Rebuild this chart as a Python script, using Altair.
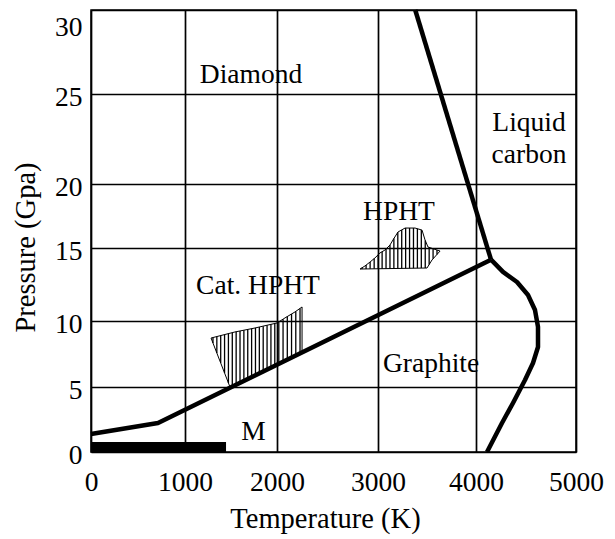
import altair as alt
import numpy as np
import pandas as pd

# ---- data (Temperature K, Pressure GPa) ----
x_ticks = [0, 1000, 2000, 3000, 4000, 5000]
y_ticks = [0, 5, 10, 15, 20, 25, 30]

# diamond / graphite boundary
dg_T = [0, 713, 4150]
dg_P = [1.38, 2.23, 14.2]
# diamond / liquid (melting) line
melt_T = [4150, 3380]
melt_P = [14.2, 30.0]
# graphite / liquid line
gl_T = [4150, 4270, 4410, 4520, 4590, 4620, 4620, 4570, 4490, 4370, 4260, 4110]
gl_P = [14.2, 13.36, 12.67, 11.78, 10.75, 9.55, 8.03, 6.82, 5.53, 3.77, 2.23, 0.0]

# metastable (M) region bar
m_T = [0, 1446]
m_P = [0.0, 0.77]

# Cat. HPHT region outline
cat_top_T = [1283, 1543, 1761, 2000, 2079, 2178, 2248]
cat_top_P = [8.71, 9.17, 9.47, 9.85, 10.21, 10.62, 10.96]
cat_bot_T = [1283, 1489, 2248]
cat_bot_P = [8.71, 5.0, 7.58]

# HPHT region outline
hp_top_T = [2822, 2871, 2921, 2970, 3020, 3071, 3122, 3153, 3204, 3276, 3378, 3449, 3480, 3510, 3633]
hp_top_P = [13.56, 13.77, 14.04, 14.32, 14.66, 14.86, 15.23, 15.63, 16.25, 16.56, 16.56, 16.4, 15.63, 15.08, 14.79]
hp_bot_T = [2822, 3500, 3551, 3633]
hp_bot_P = [13.56, 13.63, 14.18, 14.79]

label_text = ["Diamond", "Liquid", "carbon", "HPHT", "Cat. HPHT", "Graphite", "M"]
label_T = [1717, 4530, 4530, 3214, 1793, 3541, 1745]
label_P = [25.68, 22.96, 21.18, 17.19, 11.85, 6.14, 0.92]

FONT = "Liberation Serif"

# ---- tables ----
lines = pd.DataFrame(
    [{"seg": "dg", "i": i, "T": t, "P": p} for i, (t, p) in enumerate(zip(dg_T, dg_P))]
    + [{"seg": "melt", "i": i, "T": t, "P": p} for i, (t, p) in enumerate(zip(melt_T, melt_P))]
    + [{"seg": "gl", "i": i, "T": t, "P": p} for i, (t, p) in enumerate(zip(gl_T, gl_P))]
)

def hatch(topT, topP, botT, botP, step):
    ts = np.arange(topT[0] + step / 2, topT[-1], step)
    return pd.DataFrame({
        "T": ts,
        "P": np.interp(ts, botT, botP),
        "P2": np.interp(ts, topT, topP),
    })

hatch_df = pd.concat([
    hatch(cat_top_T, cat_top_P, cat_bot_T, cat_bot_P, 42),
    hatch(hp_top_T, hp_top_P, hp_bot_T, hp_bot_P, 40),
])

def outline(name, topT, topP, botT, botP):
    T = list(topT) + list(botT[::-1])
    P = list(topP) + list(botP[::-1])
    return pd.DataFrame({"reg": name, "i": range(len(T)), "T": T, "P": P})

outline_df = pd.concat([
    outline("cat", cat_top_T, cat_top_P, cat_bot_T, cat_bot_P),
    outline("hp", hp_top_T, hp_top_P, hp_bot_T, hp_bot_P),
])

m_df = pd.DataFrame({"T": [m_T[0]], "T2": [m_T[1]], "P": [m_P[0]], "P2": [m_P[1]]})
labels_df = pd.DataFrame({"text": label_text, "T": label_T, "P": label_P})
grid_df = pd.DataFrame({"T": [0, 5000], "P": [0, 30]})

W, H = 485, 442
xs = alt.Scale(domain=x_ticks, range=[0, 94, 186, 287, 385, 485], nice=False, zero=False)
ys = alt.Scale(domain=y_ticks, range=[442, 377, 311, 238, 174, 84, 0], nice=False, zero=False)

x_axis = alt.Axis(
    values=x_ticks, grid=True, gridColor="black", gridWidth=1.7, gridOpacity=1,
    ticks=False, tickSize=0, domain=False, format="d",
    labelFont=FONT, labelFontSize=27.5, labelColor="black", labelBaseline="alphabetic",
    labelPadding=38, labelFlush=False, labelOverlap=False,
    title="Temperature (K)", titleFont=FONT, titleFontSize=28.5, titleFontWeight="normal",
    titleColor="black", titleBaseline="alphabetic", titleY=75, titleX=234, titleAnchor="middle",
)
y_axis = alt.Axis(
    values=y_ticks, grid=True, gridColor="black", gridWidth=1.7, gridOpacity=1,
    ticks=False, tickSize=0, domain=False, format="d",
    labelFont=FONT, labelFontSize=27.5, labelColor="black",
    labelBaseline={"condition": {"test": "datum.value == 30", "value": "top"}, "value": "middle"},
    labelOffset=3, labelPadding=9, labelFlush=False, labelOverlap=False,
    title="Pressure (Gpa)", titleFont=FONT, titleFontSize=28.5, titleFontWeight="normal",
    titleColor="black", titleBaseline="alphabetic", titleAngle=270, titleX=-57, titleY=237,
    titleAlign="center",
)

def X(field="T"):
    return alt.X(f"{field}:Q", scale=xs, axis=x_axis, title="Temperature (K)")

def Y(field="P"):
    return alt.Y(f"{field}:Q", scale=ys, axis=y_axis, title="Pressure (Gpa)")

base_grid = alt.Chart(grid_df).mark_point(opacity=0).encode(x=X(), y=Y())

m_bar = alt.Chart(m_df).mark_rect(color="black").encode(
    x=X(), x2="T2:Q", y=Y(), y2="P2:Q",
)

hatch_layer = alt.Chart(hatch_df).mark_rule(color="black", strokeWidth=1.3).encode(
    x=X(), y=Y(), y2="P2:Q",
)

outline_layer = alt.Chart(outline_df).mark_line(color="black", strokeWidth=1).encode(
    x=X(), y=Y(), detail="reg:N", order="i:Q",
)

phase_lines = alt.Chart(lines).mark_line(
    color="black", strokeWidth=4.5, strokeJoin="round", strokeCap="butt"
).encode(
    x=X(), y=Y(), detail="seg:N", order="i:Q",
)

text_layer = alt.Chart(labels_df).mark_text(
    font=FONT, fontSize=27.5, color="black", align="center", baseline="alphabetic"
).encode(
    x=X(), y=Y(), text="text:N",
)

chart = alt.layer(base_grid, m_bar, hatch_layer, outline_layer, phase_lines, text_layer).properties(
    width=W, height=H,
    autosize=alt.AutoSizeParams(type="none"),
    padding={"left": 91, "top": 10, "right": 39, "bottom": 87},
    background="white",
).configure_view(stroke="black", strokeWidth=1.5)

chart.save("out.html", embed_options={"renderer": "svg", "actions": False})
